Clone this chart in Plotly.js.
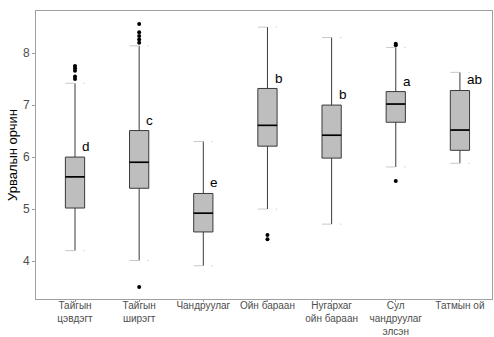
<!DOCTYPE html>
<html>
<head>
<meta charset="utf-8">
<script src="https://cdn.plot.ly/plotly-3.0.1.min.js"></script>
<style>html,body{margin:0;padding:0;background:#fff;}#chart{width:494px;height:337px;}</style>
</head>
<body>
<div id="chart"></div>
<script>
// ---- data ----
const categories = ["Тайгын<br>цэвдэгт", "Тайгын<br>ширэгт", "Чандруулаг", "Ойн бараан", "Нугархаг<br>ойн бараан", "Сул<br>чандруулаг<br>элсэн", "Татмын ой"];
const q1Values     = [5.02, 5.40, 4.56, 6.21, 5.98, 6.67, 6.13];
const medianValues = [5.62, 5.90, 4.92, 6.61, 6.42, 7.02, 6.52];
const q3Values     = [6.00, 6.51, 5.30, 7.32, 7.00, 7.26, 7.28];
const lowerValues  = [4.20, 4.01, 3.91, 5.00, 4.71, 5.81, 5.88];
const upperValues  = [7.42, 8.14, 6.30, 8.50, 8.30, 8.11, 7.63];
const outlierGroups = [
  [7.50, 7.55, 7.66, 7.71, 7.75],
  [8.20, 8.26, 8.33, 8.40, 8.56, 3.50],
  [],
  [4.50, 4.42],
  [],
  [8.15, 8.18, 5.54],
  []
];
const letters = ["d", "c", "e", "b", "b", "a", "ab"];
const letterY = [6.20, 6.71, 5.52, 7.52, 7.21, 7.46, 7.50];
const yTicks = [4, 5, 6, 7, 8];

// ---- build ----
const boxW = 0.3;
const traces = [];
traces.push({
  type: 'box',
  x: categories,
  q1: q1Values, median: medianValues, q3: q3Values,
  lowerfence: lowerValues, upperfence: upperValues,
  width: boxW,
  whiskerwidth: 0,
  fillcolor: '#BEBEBE',
  line: {color: '#3a3a3a', width: 1},
  boxpoints: false,
  hoverinfo: 'skip',
  showlegend: false
});
const ox = [], oy = [];
outlierGroups.forEach((g, i) => g.forEach(v => { ox.push(categories[i]); oy.push(v); }));
traces.push({
  type: 'scatter', mode: 'markers', x: ox, y: oy,
  marker: {color: '#000', size: 4},
  showlegend: false, hoverinfo: 'skip'
});

const shapes = [];
categories.forEach((c, i) => {
  [lowerValues[i], upperValues[i]].forEach(v => {
    shapes.push({type: 'line', xref: 'x', yref: 'y', x0: i - boxW/2, x1: i + boxW/2, y0: v, y1: v,
      line: {color: '#c8c8c8', width: 1, dash: 'dash'}});
  });
  shapes.push({type: 'line', xref: 'x', yref: 'y', x0: i - boxW/2, x1: i + boxW/2, y0: medianValues[i], y1: medianValues[i],
    line: {color: '#000', width: 1.6}});
});

const annotations = letters.map((t, i) => ({
  x: i + 0.08, y: letterY[i], xref: 'x', yref: 'y', text: t, showarrow: false,
  xanchor: 'left', yanchor: 'middle',
  font: {family: 'Liberation Sans, Arial, sans-serif', size: 13.5, color: '#000'}
}));

const layout = {
  width: 494, height: 337,
  margin: {l: 36, r: 2, t: 11, b: 38},
  paper_bgcolor: '#fff', plot_bgcolor: '#fff',
  font: {family: 'Liberation Sans, Arial, sans-serif'},
  xaxis: {
    type: 'category', range: [-0.608, 6.5],
    showline: true, linecolor: '#a0a0a0', linewidth: 1, mirror: true,
    showgrid: false, zeroline: false,
    ticks: 'outside', ticklen: 2, tickcolor: '#a0a0a0',
    ticklabelstandoff: -5,
    tickfont: {size: 10, color: '#4d4d4d'}
  },
  yaxis: {
    range: [3.27, 8.81],
    tickvals: yTicks,
    showline: true, linecolor: '#a0a0a0', linewidth: 1, mirror: true,
    showgrid: false, zeroline: false,
    ticks: 'outside', ticklen: 3, tickcolor: '#a0a0a0',
    tickfont: {size: 12, color: '#4d4d4d'},
    title: {text: 'Урвалын орчин', font: {size: 13, color: '#000'}, standoff: 2}
  },
  shapes: shapes,
  annotations: annotations,
  showlegend: false
};
Plotly.newPlot('chart', traces, layout, {staticPlot: true, displayModeBar: false});
</script>
</body>
</html>
